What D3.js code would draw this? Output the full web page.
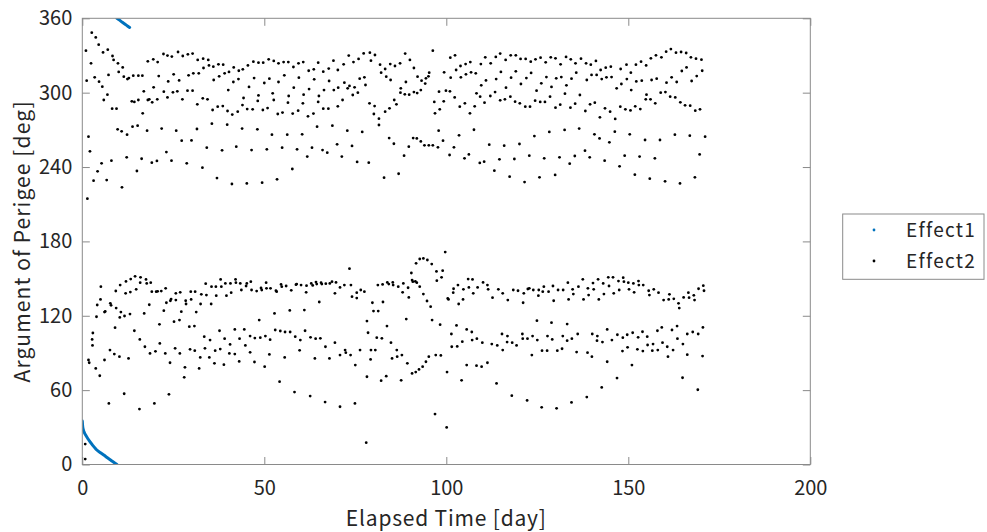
<!DOCTYPE html>
<html><head><meta charset="utf-8">
<script src="https://cdn.jsdelivr.net/npm/d3@7"></script>
<style>
body{margin:0;background:#fff;}
svg{display:block;}
text{font-family:"Noto Sans CJK JP","Noto Sans",sans-serif;fill:#262626;}
</style>
</head><body>
<svg id="chart" width="987" height="532"></svg>
<script>
const xTicks=[0,50,100,150,200];
const yTicks=[0,60,120,180,240,300,360];
const seriesNames=["Effect1","Effect2"];
const xLabel="Elapsed Time [day]";
const yLabel="Argument of Perigee [deg]";

const effect1=[[0,35],[0.1,31],[0.3,28],[0.6,25.5],[1,23.3],[1.5,21],[2,18.8],[2.5,16.9],[3,15],[3.5,13.3],[4,11.7],[5,9.5],[6,7.4],[7,5.2],[8,3.1],[9,1.0],[9.5,0],[9.5,360],[10,359],[11,356.8],[12,354.7],[13,352.6]];

const effect2Upper=[[1.0,333.9],[1.2,309.7],[2.4,323.7],[2.6,348.4],[3.7,344.6],[3.4,312.4],[4.6,308.9],[4.5,338.7],[5.5,304.8],[5.7,332.5],[5.9,294.1],[6.9,298.4],[7.0,334.7],[7.2,314.3],[8.3,329.6],[8.2,287.1],[8.6,326.4],[9.4,287.1],[9.8,323.7],[10.0,316.7],[11.1,320.4],[11.4,312.9],[12.4,311],[12.8,311.8],[13.6,293],[14.3,292.5],[14.0,313.7],[15.4,313.7],[15.4,294.1],[16.5,313.7],[16.9,301.1],[16.6,283.3],[18.0,325.3],[18.0,294.1],[18.4,294.6],[19.5,326.9],[19.6,304.3],[19.2,292.2],[20.7,324.7],[21.0,313.4],[20.6,294.6],[22.3,331.2],[22.4,300.8],[23.4,329.9],[23.4,296.2],[23.6,309.1],[24.6,329.1],[25.1,314.8],[24.9,300.3],[26.3,332.8],[26.6,309.9],[26.1,301.1],[27.6,329.6],[27.5,294.6],[29.2,314],[29.0,330.9],[28.9,301.6],[30.3,331.5],[30.5,315.6],[30.3,301.6],[31.7,326.4],[32.0,315.6],[31.6,290.6],[33.2,327.4],[33.3,319.9],[33.1,295.4],[34.4,294.6],[34.6,326.4],[34.8,322],[36.0,321],[36.1,310.2],[35.8,286],[37.4,322.9],[37.6,313.2],[37.2,288.7],[38.7,322.6],[39.1,315.6],[38.6,289.2],[40.3,316.7],[40.1,302.1],[39.9,285.2],[41.6,320.4],[41.5,308.6],[41.2,282.3],[43.0,317.7],[42.9,311],[42.7,284.7],[44.1,318.8],[44.3,295.7],[44.0,290],[45.5,322],[45.8,304.6],[45.3,286.8],[47.0,325],[47.2,311.8],[46.8,286.6],[48.4,324.2],[48.4,297.8],[48.2,293.3],[49.7,324.2],[50.0,307.8],[49.6,286],[51.2,326.9],[51.4,311.3],[50.9,287.6],[52.6,325.6],[52.6,294.1],[52.3,299.5],[53.9,323.7],[53.9,308.6],[53.7,282.8],[55.3,324.7],[55.5,314],[55.0,283.9],[56.6,324.7],[56.7,297.3],[56.5,291.9],[58.0,320.7],[58.1,304],[57.8,283.1],[59.4,323.7],[59.5,312.1],[59.3,285.5],[60.7,324.7],[60.8,298.4],[60.6,291.4],[62.2,317.7],[62.3,302.9],[62.0,280.9],[63.6,318.8],[63.7,310.8],[63.5,283.1],[64.8,324.2],[65.0,297.3],[64.8,292.5],[66.2,316.9],[66.4,302.1],[66.2,287.1],[67.7,319.4],[67.8,309.4],[67.6,287.1],
[1.7,264.5],[2.1,252.7],[1.4,214.5],[3.1,229],[4.2,236.5],[5.3,243],[6.7,229.5],[8.0,245.1],[9.7,270.4],[10.9,223.6],[10.8,268.8],[12.3,266.1],[12.2,247.8],[13.8,272.6],[15.0,236.8],[15.2,273.4],[16.3,246.7],[17.8,269.3],[19.1,243.5],[20.5,244.9],[21.8,271],[23.1,252.1],[24.5,245.1],[25.8,269.3],[27.3,261.3],[28.7,243],[30.0,261.5],[31.5,270.7],[33.0,239.5],[34.2,255.6],[35.6,275],[37.0,231.1],[38.4,253.5],[39.8,274.2],[41.1,226.3],[42.3,256.4],[43.9,271],[45.2,226.8],[46.5,253.7],[48.1,270.4],[49.4,227.4],[50.7,254.3],[52.1,266.1],[53.5,230.1],[54.9,255.6],[56.3,266.1],[57.7,238.4],[59.0,254.3],[60.4,266.4],[61.8,248.4],[63.1,255.6],[64.5,272.6],[66.0,253.7],[67.3,251.6],
[69.0,325.8],[70.2,318.3],[69.1,302.1],[68.7,273.4],[70.3,304],[70.2,289],[70.0,258.3],[71.3,248.4],[71.5,294.1],[71.8,322.9],[72.0,308.1],[72.9,303.5],[73.2,329.9],[72.8,269.3],[73.4,305.4],[74.1,257],[74.3,298.1],[74.5,324.7],[74.8,304.3],[75.5,244.1],[75.7,300],[75.9,327.2],[76.2,311.3],[76.9,268.3],[77.3,331.7],[77.5,312.4],[77.8,306.2],[78.7,243.5],[79.0,332.3],[79.3,325.8],[78.9,291.4],[80.1,282.8],[80.3,289.2],[80.4,330.4],[81.5,279],[81.5,273.9],[81.8,322.6],[82.1,316.1],[82.9,231.4],[83.2,284.7],[83.2,319.1],[83.5,312.9],[84.3,263.4],[84.4,287.4],[84.6,323.1],[84.7,310.2],[85.6,258.8],[85.9,321.5],[86.3,290.6],[85.7,294.1],[86.9,234.6],[87.3,323.7],[87.4,300],[87.5,303.5],[88.4,249.2],[88.7,331.5],[88.9,308.6],[88.6,298.7],[89.7,256.4],[89.8,298.4],[90.0,326.4],[90.9,263.4],[91.1,300.5],[91.1,319.9],[91.9,263.1],[92.0,299.7],[92.1,312.9],[93.0,260.7],[93.0,302.1],[93.2,309.7],[94.0,257.5],[94.2,307.3],[94.4,311.6],[95.2,257.5],[95.3,316.1],[95.1,313.2],[96.3,257.5],[96.3,333.9],[96.7,292.5],[96.9,283.3],[97.7,255.9],[97.9,269.3],[98.0,300.8],[98.2,286.6],[99.1,261.3],[99.3,293],[99.4,316.4],[99.9,301.6],[100.9,249.7],[101.0,301.1],[101.1,328.2],[101.2,312.1],[102.1,255.9],[102.3,296.2],[102.4,330.1],[102.7,318.3],[103.5,265.6],[103.7,288.7],[103.9,321.5],[104.0,312.4],[105.0,247],[105.1,291.4],[105.3,323.1],[105.4,314.8],[106.2,250.2],[106.5,283.3],[106.6,324.7],[106.8,316.4],[107.6,270.1],[107.8,289],[108.1,315.6],[108.3,299.5],[109.2,243.3],[109.3,296.8],[109.5,323.1],[109.6,305.9],[110.4,244.3],[110.5,291.9],[110.7,328.5],[110.9,309.9],[111.8,258],[112.1,297.3],[112.2,323.7],[113.2,237.1],[113.4,300.5],[113.6,328.8],[113.7,311],[114.6,246.2],[114.8,293.8],[114.8,331.5],[115.0,316.7],[115.9,257.2],[116.1,294.6],[116.3,326.4],[116.4,304],[117.4,232.2],[117.6,296.8],[117.7,330.1],[117.8,312.1],[118.7,246.5],[118.9,292.7],[119.1,330.1],[119.1,317.2],[120.1,258.6],[120.2,291.4],[120.4,327.2],[120.5,307],[121.5,227.9],[121.7,288.7],[121.8,327.2],[122.0,311.8],[122.8,249.2],[123.0,288.7],[123.2,325],[123.3,315.9],[124.2,265],[124.4,293.5],[124.5,326.9],[124.8,301.6],[125.6,231.7],[125.8,292.5],[125.9,328.2],[126.1,307.5],[126.9,247],[127.1,292.5],[127.3,324.5],[127.5,312.6],[128.3,268.3],[128.5,296.8],[128.7,328.5],[128.9,304.6],[129.9,233.6],[130.0,287.9],[130.0,327.7],[130.2,311.6],[131.1,247.8],[131.3,290.3],[131.4,322.9],[131.6,312.6],[132.5,269.9],[132.6,299.2],[132.9,328.8],[133.0,305.9],[133.9,242.7],[134.1,287.9],[134.2,326.9],[134.4,311.3],[135.3,248.9],[135.4,291.1],[135.5,323.7],[135.7,316.1],[136.5,271],
[137.0,327.4],[136.7,298.1],[138.4,323.7],[138.2,285.2],[138.1,253.2],[138.6,310.2],[139.7,322.6],[139.5,290.6],[139.4,247.8],[139.9,314.3],[140.8,291.9],[140.7,266.4],[141.1,325.6],[141.3,314.3],[142.2,280.1],[142.1,263.1],[142.4,318.3],[142.7,311],[143.5,245.1],[143.6,287.4],[143.8,320.2],[144.0,312.4],[144.8,259.9],[145.0,284.7],[145.2,321],[145.4,312.6],[146.3,268.5],[146.4,278.8],[146.8,303.5],[147.6,240.6],[147.8,288.7],[147.9,319.1],[148.1,307],[149.0,249.2],[149.2,286.6],[149.5,322.6],[149.6,311],[150.4,266.4],[150.6,285.7],[150.7,316.1],[150.8,302.1],[151.8,233.8],[151.9,289],[152.1,322.6],[152.2,309.1],[153.1,248.4],[153.3,286.8],[153.5,325],[153.7,309.7],[154.6,261.8],[154.8,294.6],[154.9,322],[155.0,298.4],[155.9,230.6],[156.1,294.6],[156.2,327.7],[156.4,310.2],[157.3,247],[157.4,291.4],[157.6,330.1],[157.8,311.3],[158.7,261.8],[158.9,300],[159.1,328.5],[160.1,228.5],[160.2,300.5],[160.4,333.1],[160.5,308.1],[161.5,296.8],[161.7,335.2],[161.9,312.4],[162.8,266.1],[162.9,296.2],[163.1,332.3],[163.3,308.6],[164.2,226.8],[164.3,292.2],[164.5,332.8],[164.7,317.5],[165.6,289.8],[165.9,332],[166.0,320.4],[166.9,265.3],[167.0,289.5],[167.2,328.5],[167.4,309.4],[168.3,231.7],[168.4,285.5],[168.6,327.4],[168.8,313.4],[169.6,250.2],[169.7,286.6],[170.1,326.6],[170.3,317.7],[171.1,264.5]];

const effect2Lower=[[0.8,16.5],[0.8,4.4],[1.7,84.3],[1.9,82.1],[2.7,100.9],[2.8,96.1],[2.9,106.1],[3.9,119.2],[3.7,77.5],[4.1,128.7],[4.8,71.6],[5.0,133.2],[5.1,143.5],[6.1,123],[6.3,123.5],[6.1,84.3],[7.3,49.3],[7.6,92.3],[7.7,130],[7.9,128.4],[8.8,89.1],[9.0,110.4],[9.2,140],[9.3,126.2],[10.2,87],[10.3,118.7],[10.4,144.8],[10.6,123],[11.5,57.1],[11.6,119.8],[11.9,138.1],[12.0,147.7],[12.7,85.6],[13.1,121.4],[13.2,139.1],[13.3,149.6],[14.3,107.9],[14.5,151.8],[14.8,141.3],[15.7,44.7],[15.8,100.9],[15.9,146.7],[16.0,151],[17.0,121.9],[17.2,95],[17.5,149.3],[17.7,146.1],[18.4,128.9],[18.6,89.6],[18.8,146.7],[19.1,139.4],[19.8,49.3],[20.1,91.3],[20.3,139.4],[20.7,139.7],[21.2,113.1],[21.3,97.7],[21.7,139.9],[22.4,124.1],[22.8,89.6],[22.9,142.1],[23.1,130.5],[23.8,56.6],[24.1,82.1],[24.2,132.1],[24.4,133.5],[25.2,115.2],[25.5,93.7],[25.7,138.1],[25.7,132.7],[26.7,116.5],[26.8,89.6],[26.9,138.9],[27.2,123.3],[28.0,70.3],[28.2,78.4],[28.4,132.1],[28.5,129.5],[29.4,111.2],[29.6,92.9],[29.8,139.4],[29.9,133.2],[30.8,111.7],[30.9,91.8],[31.0,139.4],[31.3,123],[32.1,77.5],[32.4,86.4],[32.5,129.5],[32.7,137.3],[33.5,103.1],[33.7,93.7],[33.9,145.9],[34.1,136.7],[34.9,86.4],[35.1,100.4],[35.4,129.5],[35.5,143.5],[36.3,81.6],[36.5,91.8],[36.7,143.5],[36.8,136.2],[37.7,107.9],[37.9,93.1],[38.0,149.3],[38.2,143.5],[38.9,80.5],[39.1,101.5],[39.3,146.1],[39.6,136.2],[40.4,89.6],[40.6,96.9],[40.7,146.1],[40.9,138.6],[41.9,109],[41.9,89.1],[42.1,149.3],[42.2,146.7],[43.1,83.2],[43.2,101.5],[43.4,146.1],[43.7,140.8],[44.5,109],[44.8,96.1],[45.0,144],[45.2,146.1],[46.1,103.6],[46.1,90.5],[46.3,147.5],[46.5,140.8],[47.3,82.7],[47.4,102],[47.9,139.9],[48.6,116.5],[48.9,102.3],[49.1,142.4],[49.3,140.8],[50.1,78.9],[50.3,103.6],[50.5,146.7],[50.6,142.1],[51.4,88.8],[51.6,100.7],[51.7,142.1],[52.8,121.9],[53.0,108.5],[53.2,140.2],[53.4,139.4],[54.2,66.8],[54.4,107.7],[54.6,145.3],[54.8,143.5],[55.6,86.4],[55.7,106.9],[56.0,144],[57.0,124.3],[57.1,106.9],[57.4,140.5],[58.3,58.4],[58.5,103.1],[58.7,145.1],[58.9,145.6],[59.7,92.1],[59.9,100.4],[60.1,144.8],[61.0,124.6],[61.2,107.9],[61.5,138.9],[61.6,144.3],[62.6,55.2],[62.7,102.6],[62.9,146.1],[63.3,144.5],[63.9,85.6],[64.1,101.5],[64.2,147.2],[64.4,145.6],[65.1,131.1],[65.4,101.8],[65.6,146.7],[65.8,145.6],[66.7,50.4],[66.8,95],[66.9,145.9],[67.9,85.6],[68.0,146.1],
[68.6,147.5],[69.4,138.1],[69.7,146.9],[69.4,98.3],[70.8,142.9],[70.8,88.3],[70.8,46.6],[72.0,144.8],[72.2,92.3],[72.4,90.2],[73.4,158],[73.8,144.8],[73.7,88.3],[74.1,135.4],[75.0,80.2],[74.9,49.3],[75.4,134.3],[75.4,138.6],[76.3,92.3],[76.5,140.8],[77.5,139.4],[78.0,17.6],[78.2,115.7],[78.2,70.8],[78.5,106.3],[79.3,92.3],[79.2,84.8],[79.7,130.5],[80.0,123.8],[80.5,92.3],[80.9,102.3],[81.2,144.8],[81.3,123.8],[82.1,67.6],[82.3,101.8],[82.5,145.3],[82.6,131.1],[83.5,71.3],[83.7,111.7],[83.8,146.9],[84.2,145.6],[84.8,98.3],[85.1,85.6],[85.3,146.9],[85.4,144.8],[86.4,92.3],[86.5,87],[86.8,143.5],[87.6,67.9],[87.8,88.3],[88.0,138.9],[88.2,146.1],[89.0,117.3],[89.3,81.6],[89.5,142.6],[89.7,134.8],[90.4,154.5],[90.6,73.5],[90.6,148.8],[90.8,147.5],[91.5,147.7],[91.6,74.6],[91.7,162.3],[91.9,146.7],[92.5,76.7],[92.7,165.8],[92.7,143.5],[93.5,78.9],[93.7,166.3],[93.7,137.5],[94.4,82.9],[94.8,165],[94.7,131.9],[95.2,87],[96.0,161.7],[95.7,127.3],[96.1,116.5],[96.9,40.7],[97.1,88.3],[97.3,155.8],[97.4,148.3],[98.3,112.8],[98.5,88],[98.7,151],[99.0,156.4],[99.7,171.4],[100.1,29.9],[100.2,74.6],[100.4,134],[100.6,133.2],[101.4,105.3],[101.5,95],[101.9,138.6],[102.0,141.8],[102.8,112.2],[103.0,95.3],[103.2,144.8],[103.4,129.5],[104.2,67.9],[104.4,99.1],[104.6,133.2],[104.7,141.3],[105.6,109],[105.6,80.2],[106.0,149.6],[106.2,142.9],[107.0,106.9],[107.1,100.4],[107.2,149.3],[107.4,138.1],[108.3,79.7],[108.4,101.5],[108.6,142.9],[109.7,78.9],[109.9,98.3],[110.1,146.9],[111.3,82.1],[111.3,144.8],[111.5,141.3],[112.7,134.6],[112.5,97.2],[113.8,65.4],[114.0,96.1],[114.3,141.3],[115.3,105.3],[115.5,92.3],[115.5,138.1],[116.8,103.6],[116.7,98.8],[116.9,132.7],[118.0,55.5],[118.1,98.3],[118.4,140.8],[119.3,96.1],[119.7,140.2],[120.9,105.3],[121.0,101.5],[121.1,130.5],[121.3,138.1],[122.2,51.7],[122.3,101.5],[122.4,141.6],[122.8,142.1],[123.5,88.3],[123.7,103.6],[123.9,140.8],[124.9,116],[125.0,100.4],[125.3,136.2],[125.4,140.8],[126.2,46.1],[126.3,91.8],[126.5,139.4],[126.8,143.5],[127.7,91.8],[127.8,103.6],[128.1,139.4],[128.9,114.4],[129.1,100.9],[129.3,144],[129.5,132.1],[130.3,45.3],[130.5,91.8],[130.7,140.8],[131.8,93.4],[132.1,140.8],[132.0,103.6],[133.2,113.3],[133.2,99.9],[133.4,146.7],[133.6,133.2],[134.4,50.1],[134.5,101.5],[134.7,141.3],[134.9,137.5],[135.8,90.7],[136.1,105.3],[136.3,143.5],
[137.5,149.4],[137.7,133.2],[138.6,54.4],[138.8,90.2],[138.9,142.1],[139.1,136.7],[140.0,87],[140.1,105.3],[140.3,146.4],[140.5,141.3],[141.4,99.9],[141.5,103.6],[141.7,149.4],[141.9,133.2],[142.7,62.2],[142.9,98.8],[143.1,146.1],[143.3,137.5],[144.2,82.9],[144.2,109],[144.5,151],[144.7,144],[145.5,100.4],[145.8,151],[146.0,138.1],[146.9,69.7],[147.0,104.7],[147.3,148],[147.5,140.8],[148.4,91.5],[148.5,102.3],[148.6,150.7],[148.8,147.5],[149.8,94.5],[149.7,104.7],[150.0,146.7],[150.2,141.3],[151.0,80.2],[151.2,106.3],[151.4,146.1],[151.6,138.9],[152.5,92.9],[152.7,102.6],[152.8,148],[152.9,144.8],[153.9,107.1],[154.0,91.5],[154.1,144.8],[155.2,103.1],[155.3,96.4],[155.6,140.2],[155.8,136.7],[156.6,91.8],[156.8,97.2],[157.0,141.3],[158.1,92.3],[158.0,107.9],[158.3,138.6],[159.2,110.6],[159.4,98.3],[159.7,132.7],[160.7,95],[160.9,87],[161.1,133.2],[161.3,137.3],[162.0,108.5],[162.3,92.3],[162.5,133.7],[163.4,111.7],[163.5,101.5],[163.8,130],[164.0,126.2],[164.9,70],[165.0,97.2],[165.2,134.8],[166.2,105.3],[166.2,88.6],[166.5,138.6],[166.7,134.6],[167.7,106.9],[168.0,136.5],[168.2,132.7],[169.1,60.3],[169.2,105.3],[169.3,141.8],[170.4,87.5],[170.5,110.6],[170.6,144.3],[170.8,140.2]];

const colors=["#0072BD","#000000"];
const axisColor="#8a8a8a";

const svg=d3.select("#chart");
const L=82.3,R=810.3,T=18.3,B=464.5;
const x=d3.scaleLinear().domain([0,200]).range([L,R]);
const y=d3.scaleLinear().domain([0,360]).range([B,T]);

svg.append("rect").attr("x",L).attr("y",T).attr("width",R-L).attr("height",B-T).attr("fill","#fff");

// Effect1 curve (split where it wraps)
const segs=[];let cur=[];
effect1.forEach((p,i)=>{
  if(i>0 && Math.abs(p[1]-effect1[i-1][1])>180){segs.push(cur);cur=[];}
  cur.push(p);
});
segs.push(cur);
svg.append("clipPath").attr("id","pc").append("rect").attr("x",L).attr("y",T).attr("width",R-L).attr("height",B-T);
const plot=svg.append("g").attr("clip-path","url(#pc)");
const line=d3.line().x(d=>x(d[0])).y(d=>y(d[1])).curve(d3.curveMonotoneX);
segs.forEach(s=>plot.append("path").attr("d",line(s)).attr("fill","none").attr("stroke",colors[0]).attr("stroke-width",3).attr("stroke-linecap","round"));

const pts=effect2Upper.concat(effect2Lower);
plot.selectAll("circle.e2").data(pts).enter().append("circle").attr("class","e2")
  .attr("cx",d=>x(d[0])).attr("cy",d=>y(d[1])).attr("r",1.4).attr("fill",colors[1]);

// axes
const tk=7.5;
const gx=svg.append("g").attr("transform",`translate(0,${B})`)
  .call(d3.axisBottom(x).tickValues(xTicks).tickSizeInner(-tk).tickSizeOuter(0).tickPadding(0));
gx.selectAll("text").attr("dy",null).attr("y",30.5).style("font-size","20px");
const gxt=svg.append("g").attr("transform",`translate(0,${T})`)
  .call(d3.axisTop(x).tickValues(xTicks).tickSizeInner(-tk).tickSizeOuter(0).tickFormat(""));
const gy=svg.append("g").attr("transform",`translate(${L},0)`)
  .call(d3.axisLeft(y).tickValues(yTicks).tickSizeInner(-tk).tickSizeOuter(0).tickPadding(10));
gy.selectAll("text").style("font-size","20px");
const gyr=svg.append("g").attr("transform",`translate(${R},0)`)
  .call(d3.axisRight(y).tickValues(yTicks).tickSizeInner(-tk).tickSizeOuter(0).tickFormat(""));
[gx,gxt,gy,gyr].forEach(g=>{
  g.select(".domain").remove();
  g.selectAll("line").attr("stroke",axisColor);
  g.selectAll("text").attr("fill","#262626").attr("font-family",null);
});
svg.append("rect").attr("x",L).attr("y",T).attr("width",R-L).attr("height",B-T)
  .attr("fill","none").attr("stroke",axisColor).attr("stroke-width",1);

svg.append("text").attr("x",(L+R)/2).attr("y",526).attr("text-anchor","middle")
  .style("font-size","21px").style("letter-spacing","0.8px").text(xLabel);
svg.append("text").attr("transform",`translate(30,${(T+B)/2}) rotate(-90)`).attr("text-anchor","middle")
  .style("font-size","21px").style("letter-spacing","1.1px").text(yLabel);

// legend
const lg=svg.append("g");
lg.append("rect").attr("x",842.7).attr("y",214).attr("width",141.3).attr("height",65.3)
  .attr("fill","#fff").attr("stroke",axisColor);
seriesNames.forEach((n,i)=>{
  const cy=230+i*31;
  lg.append("circle").attr("cx",874).attr("cy",cy).attr("r",1.4).attr("fill",colors[i]);
  lg.append("text").attr("x",906).attr("y",cy+6.8).style("font-size","19px").style("letter-spacing","1.3px").text(n);
});
</script>
</body></html>
